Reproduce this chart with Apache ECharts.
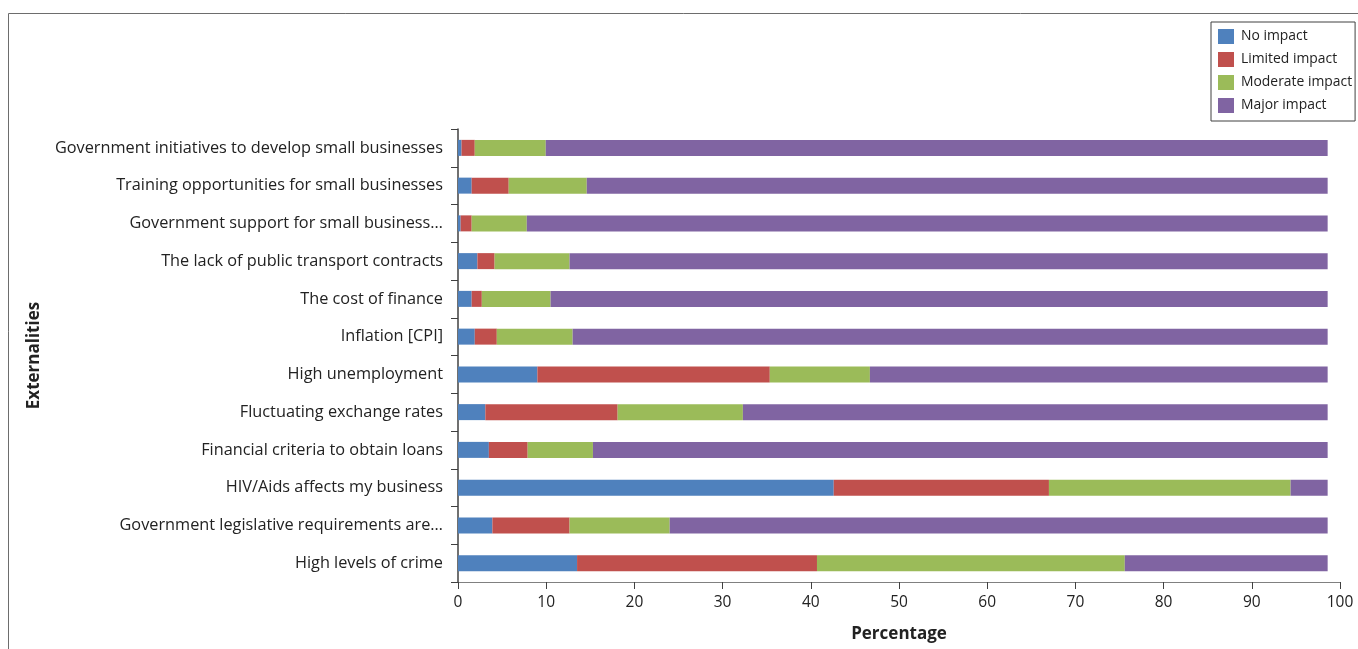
<!DOCTYPE html>
<html><head><meta charset="utf-8">
<script src="https://cdn.jsdelivr.net/npm/echarts@6/dist/echarts.min.js"></script>
<style>html,body{margin:0;padding:0;background:#fff}#c{width:1358px;height:649px}</style>
</head><body><div id="c"></div>
<script>
const categories = [
  "Government initiatives to develop small businesses",
  "Training opportunities for small businesses",
  "Government support for small business…",
  "The lack of public transport contracts",
  "The cost of finance",
  "Inflation [CPI]",
  "High unemployment",
  "Fluctuating exchange rates",
  "Financial criteria to obtain loans",
  "HIV/Aids affects my business",
  "Government legislative requirements are…",
  "High levels of crime"
];
const noImpact       = [0.4, 1.55, 0.3, 2.2, 1.55, 1.9, 9.0, 3.1, 3.5, 42.6, 3.9, 13.5];
const limitedImpact  = [1.5, 4.2, 1.25, 1.95, 1.15, 2.5, 26.35, 15.0, 4.4, 24.4, 8.75, 27.2];
const moderateImpact = [8.05, 8.85, 6.25, 8.5, 7.8, 8.6, 11.35, 14.2, 7.4, 27.4, 11.35, 34.9];
const majorImpact    = [88.65, 84.0, 90.8, 85.95, 88.1, 85.6, 51.9, 66.3, 83.3, 4.2, 74.6, 23.0];
const seriesNames = ["No impact", "Limited impact", "Moderate impact", "Major impact"];
const colors = ["#4F81BD", "#C0504D", "#9BBB59", "#8064A2"];
const xTicks = {min: 0, max: 100, interval: 10};

const FONT = "Open Sans";
const chart = echarts.init(document.getElementById('c'), null, {renderer: 'canvas'});
const values = [noImpact, limitedImpact, moderateImpact, majorImpact];
chart.setOption({
  animation: false,
  textStyle: {fontFamily: FONT},
  graphic: [{
    type: 'polyline', silent: true,
    shape: {points: [[8.5, 649], [8.5, 13.5], [1358, 13.5]]},
    style: {stroke: '#6d6d6d', lineWidth: 1, fill: null}
  }],
  legend: {
    orient: 'vertical', left: 1211, top: 22,
    padding: [7, 3, 8, 7],
    itemWidth: 16, itemHeight: 15, itemGap: 8,
    borderColor: '#404040', borderWidth: 1,
    icon: 'rect',
    textStyle: {fontFamily: FONT, fontSize: 13.9, color: '#222', padding: [0, 0, 0, 2]},
    data: seriesNames
  },
  grid: {left: 458, right: 18, top: 129, bottom: 67, containLabel: false},
  xAxis: {
    type: 'value', min: xTicks.min, max: xTicks.max, interval: xTicks.interval,
    name: 'Percentage', nameLocation: 'middle', nameGap: 44,
    nameTextStyle: {fontFamily: FONT, fontSize: 17, fontWeight: 'bold', color: '#222'},
    axisLine: {show: true, lineStyle: {color: '#808080', width: 1}},
    axisTick: {show: true, length: 7, lineStyle: {color: '#404040'}},
    axisLabel: {fontFamily: FONT, fontSize: 15.5, color: '#222', margin: 13},
    splitLine: {show: false}
  },
  yAxis: {
    type: 'category', data: categories, inverse: true,
    name: 'Externalities', nameLocation: 'middle', nameGap: 415, nameRotate: 90,
    nameTextStyle: {fontFamily: FONT, fontSize: 17, fontWeight: 'bold', color: '#222'},
    axisLine: {show: true, lineStyle: {color: '#404040', width: 1.5}},
    axisTick: {show: true, length: 7, lineStyle: {color: '#404040'}},
    axisLabel: {fontFamily: FONT, fontSize: 16.3, color: '#222', margin: 15, padding: [3, 0, 0, 0]},
    splitLine: {show: false}
  },
  series: seriesNames.map((n, i) => ({
    name: n, type: 'bar', stack: 'total', barWidth: 16,
    itemStyle: {color: colors[i]},
    emphasis: {disabled: true},
    data: values[i]
  }))
});
</script></body></html>
